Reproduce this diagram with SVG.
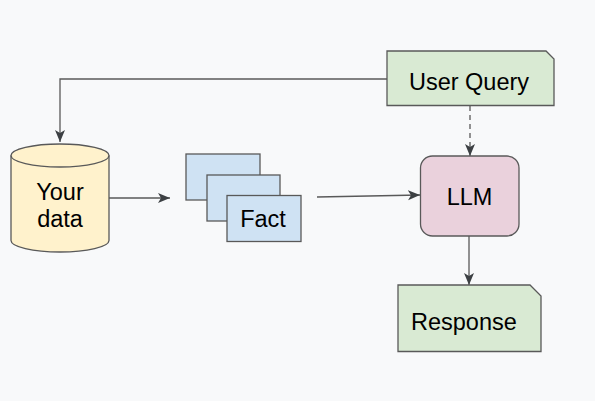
<svg xmlns="http://www.w3.org/2000/svg" width="595" height="401" viewBox="0 0 595 401">
  <style>
    .lbl { font-family: "Liberation Sans", Arial, sans-serif; font-size: 23.5px; fill: #000; }
    .shape { stroke: #595959; stroke-width: 1.3; }
    .conn { fill: none; stroke: #595959; stroke-width: 1.3; }
  </style>
  <defs>
    <marker id="arr" markerUnits="userSpaceOnUse" markerWidth="14" markerHeight="12" refX="12" refY="5" orient="auto">
      <path d="M0,0 L12,5 L0,10 L3,5 Z" fill="#3c4043"/>
    </marker>
  </defs>
  <rect width="595" height="401" fill="#f8f9fa"/>

  <g id="connectors">
    <path class="conn" d="M387,79 H60 V142" marker-end="url(#arr)"/>
    <path class="conn" d="M109,198 H170" marker-end="url(#arr)"/>
    <path class="conn" d="M317,197 L420,195" marker-end="url(#arr)"/>
    <path class="conn" d="M470,106 V156" stroke-dasharray="5,4" marker-end="url(#arr)"/>
    <path class="conn" d="M469,236 V285" marker-end="url(#arr)"/>
  </g>

  <g id="your-data">
    <path class="shape" fill="#fff2cc" d="M11,155.5 A49,11.5 0 0 1 109,155.5 V240.5 A49,11.5 0 0 1 11,240.5 Z"/>
    <path class="shape" fill="none" d="M11,155.5 A49,11.5 0 0 0 109,155.5"/>
    <text class="lbl" x="60" y="200" text-anchor="middle">Your</text>
    <text class="lbl" x="60" y="227" text-anchor="middle">data</text>
  </g>

  <g id="facts">
    <rect class="shape" fill="#cfe2f3" x="186" y="154" width="74" height="46"/>
    <rect class="shape" fill="#cfe2f3" x="207" y="175" width="73" height="46"/>
    <rect class="shape" fill="#cfe2f3" x="227" y="195.5" width="74" height="46"/>
    <text class="lbl" x="263" y="227" text-anchor="middle">Fact</text>
  </g>

  <g id="user-query">
    <path class="shape" fill="#d9ead3" d="M387,51 H546 L554,59 V105.5 H387 Z"/>
    <text class="lbl" x="469" y="90" text-anchor="middle">User Query</text>
  </g>

  <g id="llm">
    <rect class="shape" fill="#ead1dc" x="420.5" y="156" width="98.5" height="80" rx="12" ry="12"/>
    <text class="lbl" x="469.5" y="205" text-anchor="middle">LLM</text>
  </g>

  <g id="response">
    <path class="shape" fill="#d9ead3" d="M398,285 H530 L541,296 V351.5 H398 Z"/>
    <text class="lbl" x="411" y="330">Response</text>
  </g>
</svg>
